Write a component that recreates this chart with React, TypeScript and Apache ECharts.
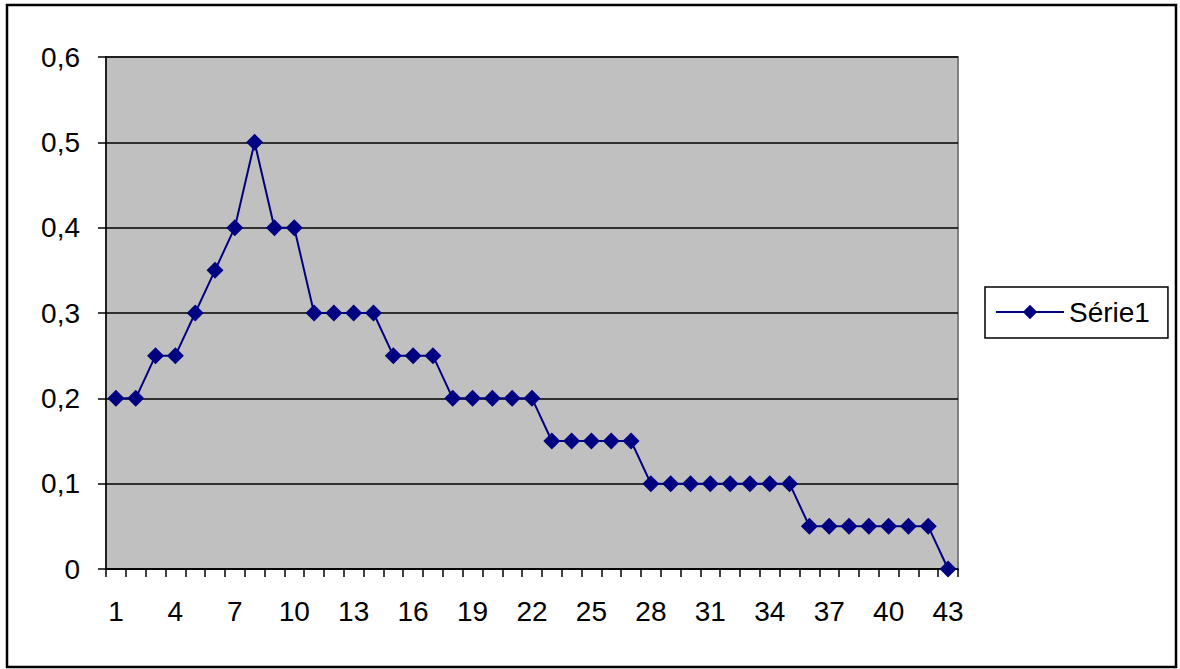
import React, { useEffect, useRef } from "react";
import * as echarts from "echarts";

const categories: string[] = Array.from({ length: 43 }, (_, i) => String(i + 1));
const seriesName = "Série1";
const values: number[] = [
  0.2, 0.2, 0.25, 0.25, 0.3, 0.35, 0.4, 0.5, 0.4, 0.4,
  0.3, 0.3, 0.3, 0.3, 0.25, 0.25, 0.25, 0.2, 0.2, 0.2,
  0.2, 0.2, 0.15, 0.15, 0.15, 0.15, 0.15, 0.1, 0.1, 0.1,
  0.1, 0.1, 0.1, 0.1, 0.1, 0.05, 0.05, 0.05, 0.05, 0.05,
  0.05, 0.05, 0,
];

export default function App() {
  const ref = useRef<HTMLDivElement>(null);
  useEffect(() => {
    document.body.style.margin = "0";
    const chart = echarts.init(ref.current!, null, { renderer: "svg" });
    const font = "Liberation Sans, Arial, sans-serif";
    chart.setOption({
      animation: false,
      backgroundColor: "#ffffff",
      textStyle: { fontFamily: font },
      graphic: [
        {
          type: "rect",
          shape: { x: 7, y: 5, width: 1169, height: 662 },
          style: { fill: "none", stroke: "#000", lineWidth: 2.5 },
          z: 100,
        },
      ],
      grid: {
        left: 106,
        top: 57,
        width: 852,
        height: 512,
        show: true,
        backgroundColor: "#c0c0c0",
        borderColor: "#808080",
        borderWidth: 2,
      },
      legend: {
        left: 985,
        top: 287,
        orient: "vertical",
        data: [seriesName],
        backgroundColor: "#fff",
        borderColor: "#000",
        borderWidth: 1.5,
        padding: [11, 18, 12, 10],
        itemWidth: 68,
        itemHeight: 18,
        itemGap: 0,
        textStyle: { fontSize: 28, color: "#000", fontFamily: font },
      },
      xAxis: {
        type: "category",
        data: categories,
        boundaryGap: true,
        axisLine: { lineStyle: { color: "#000", width: 1.5 } },
        axisTick: { show: true, interval: 0, length: 8, lineStyle: { color: "#000", width: 1.5 } },
        axisLabel: { interval: 2, fontSize: 28, color: "#000", margin: 28, fontFamily: font },
        splitLine: { show: false },
      },
      yAxis: {
        type: "value",
        min: 0,
        max: 0.6,
        interval: 0.1,
        axisLine: { show: true, lineStyle: { color: "#000", width: 1.5 } },
        axisTick: { show: true, length: 8, lineStyle: { color: "#000", width: 1.5 } },
        axisLabel: {
          fontSize: 28,
          color: "#000",
          margin: 26,
          fontFamily: font,
          formatter: (v: number) => (v === 0 ? "0" : v.toFixed(1).replace(".", ",")),
        },
        splitLine: { show: true, lineStyle: { color: "#000", width: 1.5 } },
      },
      series: [
        {
          name: seriesName,
          type: "line",
          data: values,
          symbol: "diamond",
          symbolSize: 17,
          showAllSymbol: true,
          itemStyle: { color: "#000080" },
          lineStyle: { color: "#000080", width: 2 },
        },
      ],
    });
    return () => chart.dispose();
  }, []);
  return <div ref={ref} style={{ width: 1180, height: 669 }} />;
}
